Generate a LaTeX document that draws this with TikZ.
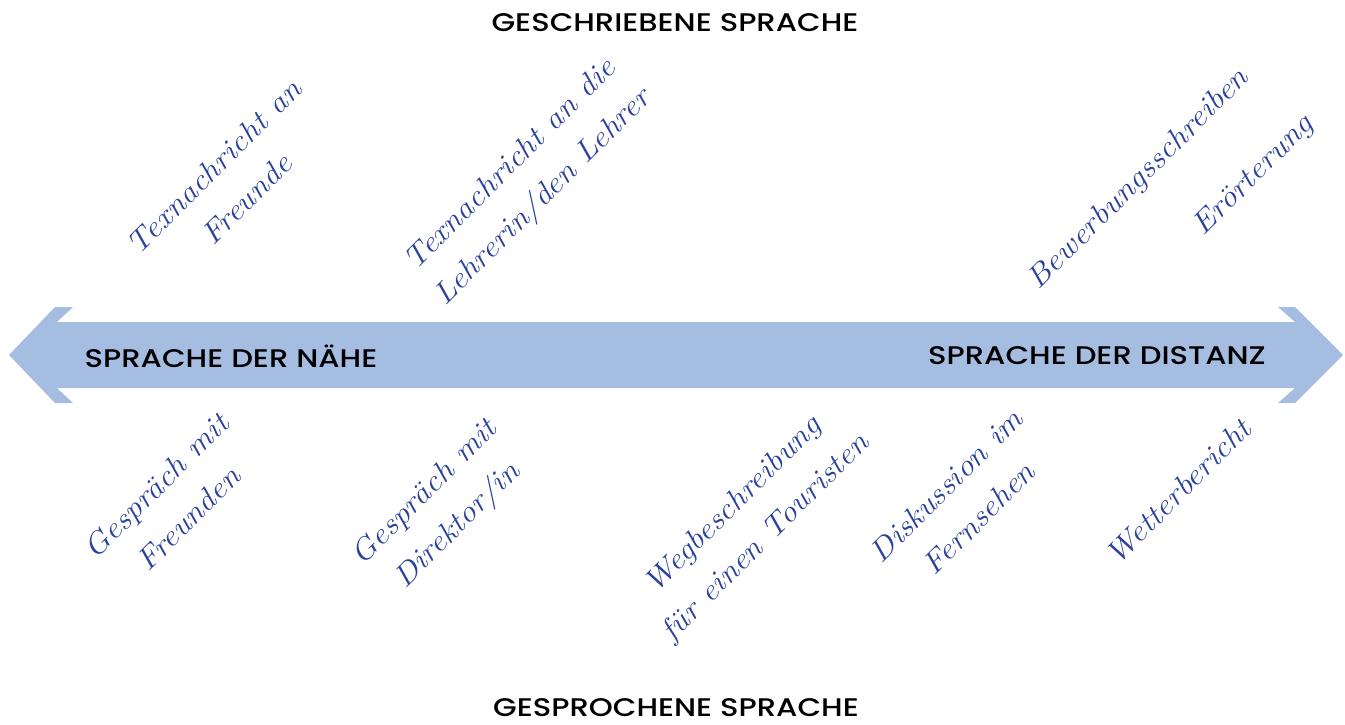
\documentclass[tikz,border=0pt]{standalone}
\usepackage{fontspec}
\newfontfamily\headfont{Poppins}[UprightFont={* Medium}, FakeStretch=1.2]
\newfontfamily\handfont{Latin Modern Roman}[FakeStretch=1.12]
\definecolor{arrowblue}{RGB}{166,189,226}
\definecolor{inkblue}{RGB}{42,66,155}
\begin{document}
\begin{tikzpicture}[x=1pt,y=-1pt,
  headline/.style={font=\headfont\fontsize{25.5}{28}\selectfont, text=black, inner sep=0pt},
  script/.style={font=\handfont\itshape\fontsize{30}{46}\selectfont, text=inkblue, rotate=45, align=center, inner sep=0pt}]
\useasboundingbox (0,0) rectangle (1345,724);
% double arrow
\fill[arrowblue] (9,355) -- (55,307) -- (73,307) -- (57,322) -- (1295,322) -- (1278,307) -- (1295,307)
  -- (1343,355) -- (1295,403) -- (1278,403) -- (1295,388) -- (57,388) -- (73,403) -- (55,403) -- cycle;
% axis labels
\node[headline] (top) at (675,23) {GESCHRIEBENE SPRACHE};
\node[headline] (bot) at (676,708) {GESPROCHENE SPRACHE};
\node[headline] (near) at (231,356) {SPRACHE DER NÄHE};
\node[headline] (far) at (1097,356) {SPRACHE DER DISTANZ};
% written
\node[script] (w1) at (230,183) {Texnachricht an\\Freunde};
\node[script] (w2) at (528,182) {Texnachricht an die\\Lehrerin/den Lehrer};
\node[script] (w3) at (1139,180) {Bewerbungsschreiben};
\node[script] (w4) at (1254,176) {Erörterung};
% spoken
\node[script] (s1) at (172,502) {Gespräch mit\\Freunden};
\node[script] (s2) at (442,510) {Gespräch mit\\Direktor/in};
\node[script] (s3) at (750,522) {Wegbeschreibung\\für einen Touristen};
\node[script] (s4) at (962,502) {Diskussion im\\Fernsehen};
\node[script] (s5) at (1178,492) {Wetterbericht};
\end{tikzpicture}
\end{document}
